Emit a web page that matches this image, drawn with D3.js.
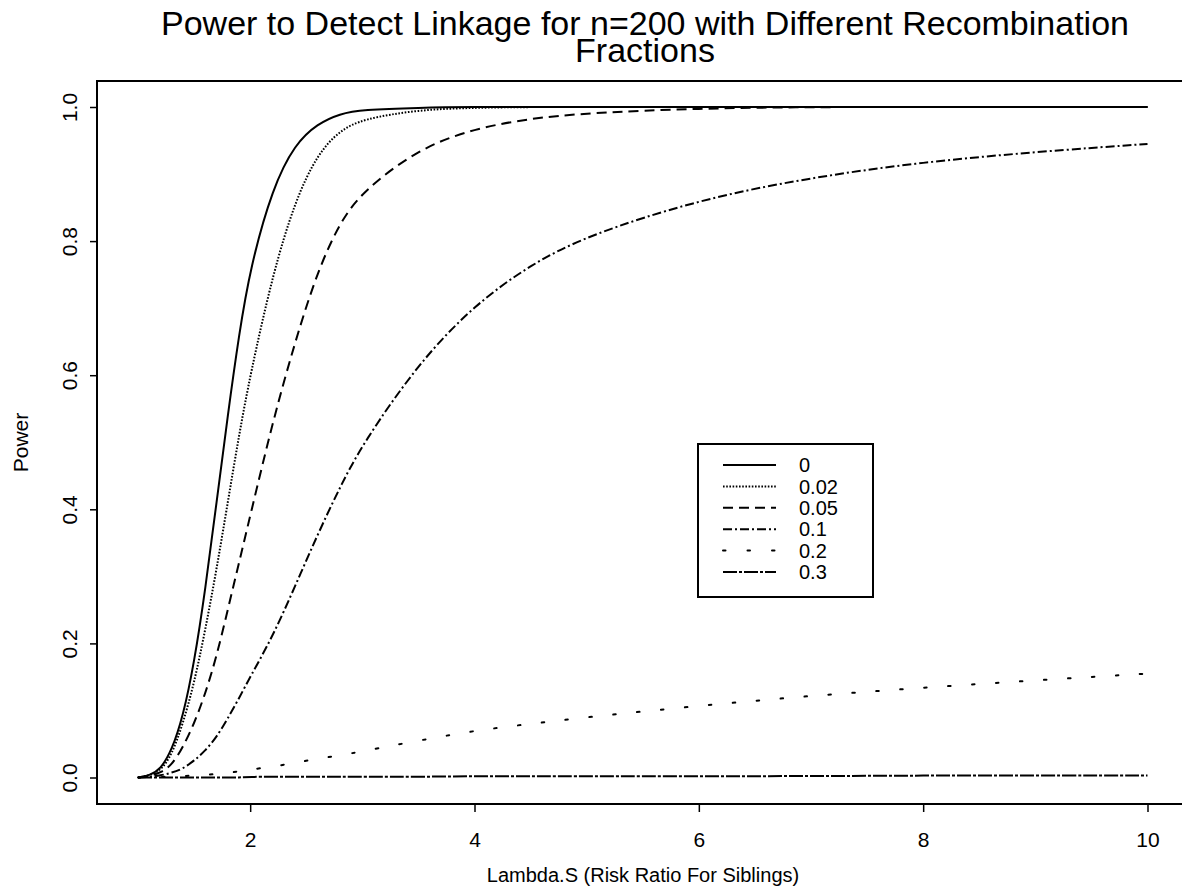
<!DOCTYPE html>
<html>
<head>
<meta charset="utf-8">
<script src="https://cdn.jsdelivr.net/npm/d3@7"></script>
<style>
    body { margin: 0; background: #fff; }
    #chart { width: 1182px; height: 888px; }
    text { font-family: "Liberation Sans", Arial, sans-serif; fill: #000; }
</style>
</head>
<body>
<div id="chart"></div>
<script>
// Lambda.S values the curves were read at
const lambdaS = [1, 1.1, 1.2, 1.3, 1.4, 1.5, 1.6, 1.7, 1.8, 1.9, 2, 2.2, 2.4, 2.6, 2.8, 3, 3.5, 4, 4.5, 5, 6, 7, 8, 9, 10];

// power, one array per recombination fraction
const power000 = [0, 0.003, 0.012, 0.04, 0.09, 0.17, 0.28, 0.41, 0.54, 0.66, 0.76, 0.88, 0.945, 0.975, 0.99, 0.996, 0.999, 1, 1, 1, 1, 1, 1, 1, 1];
const power002 = [0, 0.003, 0.01, 0.033, 0.08, 0.14, 0.22, 0.31, 0.41, 0.51, 0.60, 0.75, 0.86, 0.93, 0.965, 0.982, 0.996, 0.999, 1, 1, 1, 1, 1, 1, 1];
const power005 = [0, 0.002, 0.007, 0.018, 0.045, 0.08, 0.125, 0.18, 0.25, 0.32, 0.39, 0.53, 0.65, 0.755, 0.828, 0.874, 0.938, 0.968, 0.983, 0.991, 0.998, 1, 1, 1, 1];
const power010 = [0, 0.001, 0.003, 0.007, 0.013, 0.025, 0.04, 0.06, 0.088, 0.118, 0.15, 0.21, 0.285, 0.362, 0.433, 0.497, 0.618, 0.705, 0.765, 0.808, 0.862, 0.895, 0.918, 0.933, 0.945];
const power020 = [0, 0, 0.001, 0.001, 0.002, 0.003, 0.004, 0.005, 0.007, 0.009, 0.012, 0.016, 0.022, 0.028, 0.033, 0.039, 0.055, 0.07, 0.08, 0.09, 0.107, 0.122, 0.134, 0.145, 0.155];
const power030 = [0, 0, 0, 0, 0, 0, 0, 0, 0, 0, 0.001, 0.001, 0.001, 0.001, 0.001, 0.001, 0.001, 0.002, 0.002, 0.002, 0.002, 0.002, 0.003, 0.003, 0.003];

const fractions = ["0", "0.02", "0.05", "0.1", "0.2", "0.3"];
const xTicks = [2, 4, 6, 8, 10];
const yTicks = [0, 0.2, 0.4, 0.6, 0.8, 1.0];

class PowerVis {
    constructor(parentElement) {
        this.parentElement = parentElement;
        this.series = [power000, power002, power005, power010, power020, power030];
        this.initVis();
    }

    initVis() {
        let vis = this;

        vis.width = 1182;
        vis.height = 888;

        // plot box (the right side runs off the page like in the scan)
        vis.box = { left: 97, top: 81, right: 1190, bottom: 804 };

        vis.svg = d3.select(`#${vis.parentElement}`).append("svg")
            .attr("width", vis.width)
            .attr("height", vis.height);

        vis.x = d3.scaleLinear().domain([1, 10]).range([138, 1147.5]);
        vis.y = d3.scaleLinear().domain([0, 1]).range([777.5, 107]);

        // line styles per fraction, S-Plus style
        vis.dashes = ["none", "1.6 1.6", "10 6", "9 3 2 3", "2.5 21.5", "14 2 3 2"];

        vis.updateVis();
    }

    updateVis() {
        let vis = this;
        let b = vis.box;
        let font = "'Liberation Sans', Arial, sans-serif";

        vis.svg.append("rect")
            .attr("x", b.left).attr("y", b.top)
            .attr("width", b.right - b.left).attr("height", b.bottom - b.top)
            .attr("fill", "none").attr("stroke", "#000").attr("stroke-width", 2);

        // x axis
        let xAxis = vis.svg.append("g")
            .attr("transform", `translate(0, ${b.bottom})`)
            .call(d3.axisBottom(vis.x).tickValues(xTicks).tickSize(8).tickPadding(20).tickFormat(d3.format("d")));
        xAxis.select(".domain").remove();
        xAxis.selectAll("line").attr("stroke-width", 1.5);
        xAxis.selectAll("text").style("font-size", "21px").style("font-family", font);

        // y axis, labels turned sideways
        let yAxis = vis.svg.append("g")
            .attr("transform", `translate(${b.left}, 0)`)
            .call(d3.axisLeft(vis.y).tickValues(yTicks).tickSize(7).tickFormat(d3.format(".1f")));
        yAxis.select(".domain").remove();
        yAxis.selectAll("line").attr("stroke-width", 1.5);
        yAxis.selectAll("text")
            .attr("x", 0).attr("y", -20).attr("dy", null)
            .attr("transform", "rotate(-90)")
            .attr("text-anchor", "middle")
            .style("font-size", "21px")
            .style("font-family", font);

        // curves
        let line = d3.line()
            .x((d, i) => vis.x(lambdaS[i]))
            .y(d => vis.y(d))
            .curve(d3.curveBasis);

        vis.svg.append("g").selectAll(".curve")
            .data(vis.series)
            .enter().append("path")
            .attr("class", "curve")
            .attr("d", line)
            .attr("fill", "none")
            .attr("stroke", "#000")
            .attr("stroke-width", 2)
            .attr("stroke-linecap", (d, i) => i === 4 ? "round" : "butt")
            .attr("stroke-dasharray", (d, i) => vis.dashes[i]);

        // titles
        vis.svg.append("text")
            .attr("x", 645).attr("y", 35)
            .attr("text-anchor", "middle")
            .style("font-size", "34px")
            .text("Power to Detect Linkage for n=200 with Different Recombination");
        vis.svg.append("text")
            .attr("x", 645).attr("y", 62)
            .attr("text-anchor", "middle")
            .style("font-size", "34px")
            .text("Fractions");

        vis.svg.append("text")
            .attr("x", 643).attr("y", 882)
            .attr("text-anchor", "middle")
            .style("font-size", "20px")
            .text("Lambda.S (Risk Ratio For Siblings)");

        vis.svg.append("text")
            .attr("transform", `translate(28, ${(b.top + b.bottom) / 2}) rotate(-90)`)
            .attr("text-anchor", "middle")
            .style("font-size", "21px")
            .text("Power");

        vis.drawLegend();
    }

    drawLegend() {
        let vis = this;

        let legend = vis.svg.append("g").attr("class", "legend");
        legend.append("rect")
            .attr("x", 698).attr("y", 444)
            .attr("width", 175).attr("height", 153)
            .attr("fill", "#fff").attr("stroke", "#000").attr("stroke-width", 2);

        let rows = legend.selectAll(".row")
            .data(fractions)
            .enter().append("g")
            .attr("class", "row")
            .attr("transform", (d, i) => `translate(0, ${465 + i * 21.4})`);

        rows.append("line")
            .attr("x1", 723).attr("x2", 776)
            .attr("stroke", "#000").attr("stroke-width", 2)
            .attr("stroke-linecap", (d, i) => i === 4 ? "round" : "butt")
            .attr("stroke-dasharray", (d, i) => i === 4 ? "2.5 22" : vis.dashes[i]);

        rows.append("text")
            .attr("x", 799).attr("dy", "0.36em")
            .style("font-size", "20px")
            .text(d => d);
    }
}

new PowerVis("chart");
</script>
</body>
</html>
